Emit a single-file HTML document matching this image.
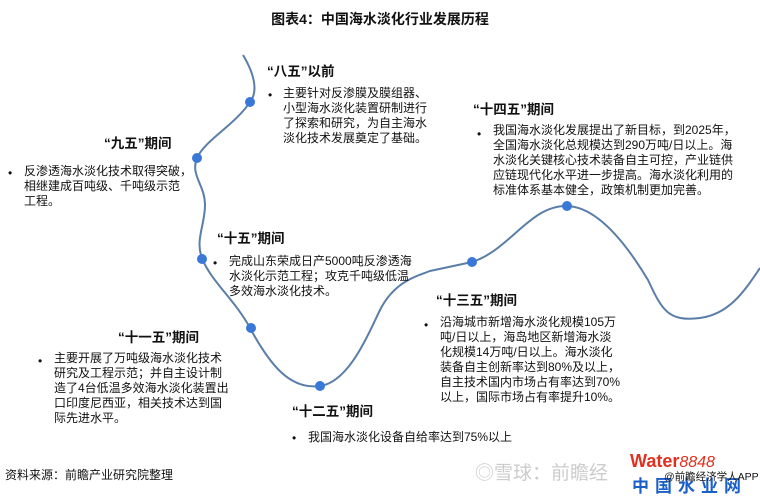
<!DOCTYPE html>
<html><head><meta charset="utf-8"><style>
body{margin:0;width:760px;height:497px;background:#fff;position:relative;overflow:hidden;font-family:"Liberation Sans","Noto Sans CJK SC",sans-serif;color:#111}
.t{position:absolute;font-size:12px;line-height:15px;white-space:nowrap}
.h{position:absolute;font-size:13.5px;font-weight:bold;white-space:nowrap}
.b{position:absolute;font-size:12px}
</style></head><body>
<div class="h" style="left:0;width:760px;text-align:center;top:9px;font-size:14px">图表4：中国海水淡化行业发展历程</div>
<svg style="position:absolute;left:0;top:0" width="760" height="497">
<path d="M243,55 C255,75 258,92 250,102 C235,125 205,140 197,158 C190,175 205,185 205,205 C205,225 195,240 202,258 C210,280 235,300 250,328 C270,365 290,390 320,386 C350,382 370,330 380,310 C395,280 420,275 430,271 L472,262 C510,250 530,205 567,206 C600,207 630,250 648,280 C662,310 668,322 700,318 C730,314 745,290 760,268" fill="none" stroke="#5a7ea8" stroke-width="2"/>
<g fill="#3a78d8"><circle cx="250" cy="102" r="5"/><circle cx="197" cy="158" r="5"/><circle cx="202" cy="259" r="5"/><circle cx="251" cy="328" r="5"/><circle cx="320" cy="386" r="5"/><circle cx="472" cy="262" r="5"/><circle cx="567" cy="206" r="5"/></g>
</svg>
<div class="h" style="left:267px;top:60px">“八五”以前</div>
<div class="b" style="left:268px;top:88px">•</div>
<div class="t" style="left:283px;top:86px">主要针对反渗膜及膜组器、<br>小型海水淡化装置研制进行<br>了探索和研究，为自主海水<br>淡化技术发展奠定了基础。</div>
<div class="h" style="left:104px;top:132px">“九五”期间</div>
<div class="b" style="left:8px;top:166px">•</div>
<div class="t" style="left:24px;top:164px">反渗透海水淡化技术取得突破，<br>相继建成百吨级、千吨级示范<br>工程。</div>
<div class="h" style="left:217px;top:227px">“十五”期间</div>
<div class="b" style="left:213px;top:256px">•</div>
<div class="t" style="left:229px;top:254px">完成山东荣成日产5000吨反渗透海<br>水淡化示范工程；攻克千吨级低温<br>多效海水淡化技术。</div>
<div class="h" style="left:473px;top:98px">“十四五”期间</div>
<div class="b" style="left:477px;top:127px">•</div>
<div class="t" style="left:493px;top:123px">我国海水淡化发展提出了新目标，到2025年，<br>全国海水淡化总规模达到290万吨/日以上。海<br>水淡化关键核心技术装备自主可控，产业链供<br>应链现代化水平进一步提高。海水淡化利用的<br>标准体系基本健全，政策机制更加完善。</div>
<div class="h" style="left:436px;top:289px">“十三五”期间</div>
<div class="b" style="left:424px;top:318px">•</div>
<div class="t" style="left:440px;top:315px">沿海城市新增海水淡化规模105万<br>吨/日以上，海岛地区新增海水淡<br>化规模14万吨/日以上。海水淡化<br>装备自主创新率达到80%及以上，<br>自主技术国内市场占有率达到70%<br>以上，国际市场占有率提升10%。</div>
<div class="h" style="left:118px;top:326px">“十一五”期间</div>
<div class="b" style="left:38px;top:354px">•</div>
<div class="t" style="left:54px;top:351px">主要开展了万吨级海水淡化技术<br>研究及工程示范；并自主设计制<br>造了4台低温多效海水淡化装置出<br>口印度尼西亚，相关技术达到国<br>际先进水平。</div>
<div class="h" style="left:292px;top:400px">“十二五”期间</div>
<div class="b" style="left:292px;top:431px">•</div>
<div class="t" style="left:308px;top:430px">我国海水淡化设备自给率达到75%以上</div>
<div class="t" style="left:5px;top:468px">资料来源：前瞻产业研究院整理</div>
<div class="t" style="left:475px;top:463px;font-size:19px;line-height:22px;color:#ccc">◎雪球：前瞻经</div>
<div style="position:absolute;left:630px;top:451px;font-size:18px;font-weight:bold;color:#e03020;white-space:nowrap">Water<span style="font-style:italic;font-weight:normal;font-size:16px">8848</span></div>
<div style="position:absolute;left:632px;top:472px;font-size:17px;font-weight:bold;color:#1a5fc8;letter-spacing:6px;white-space:nowrap">中国水业网</div>
<div class="t" style="left:664px;top:470px;font-size:10.5px">@前瞻经济学人APP</div>
</body></html>
